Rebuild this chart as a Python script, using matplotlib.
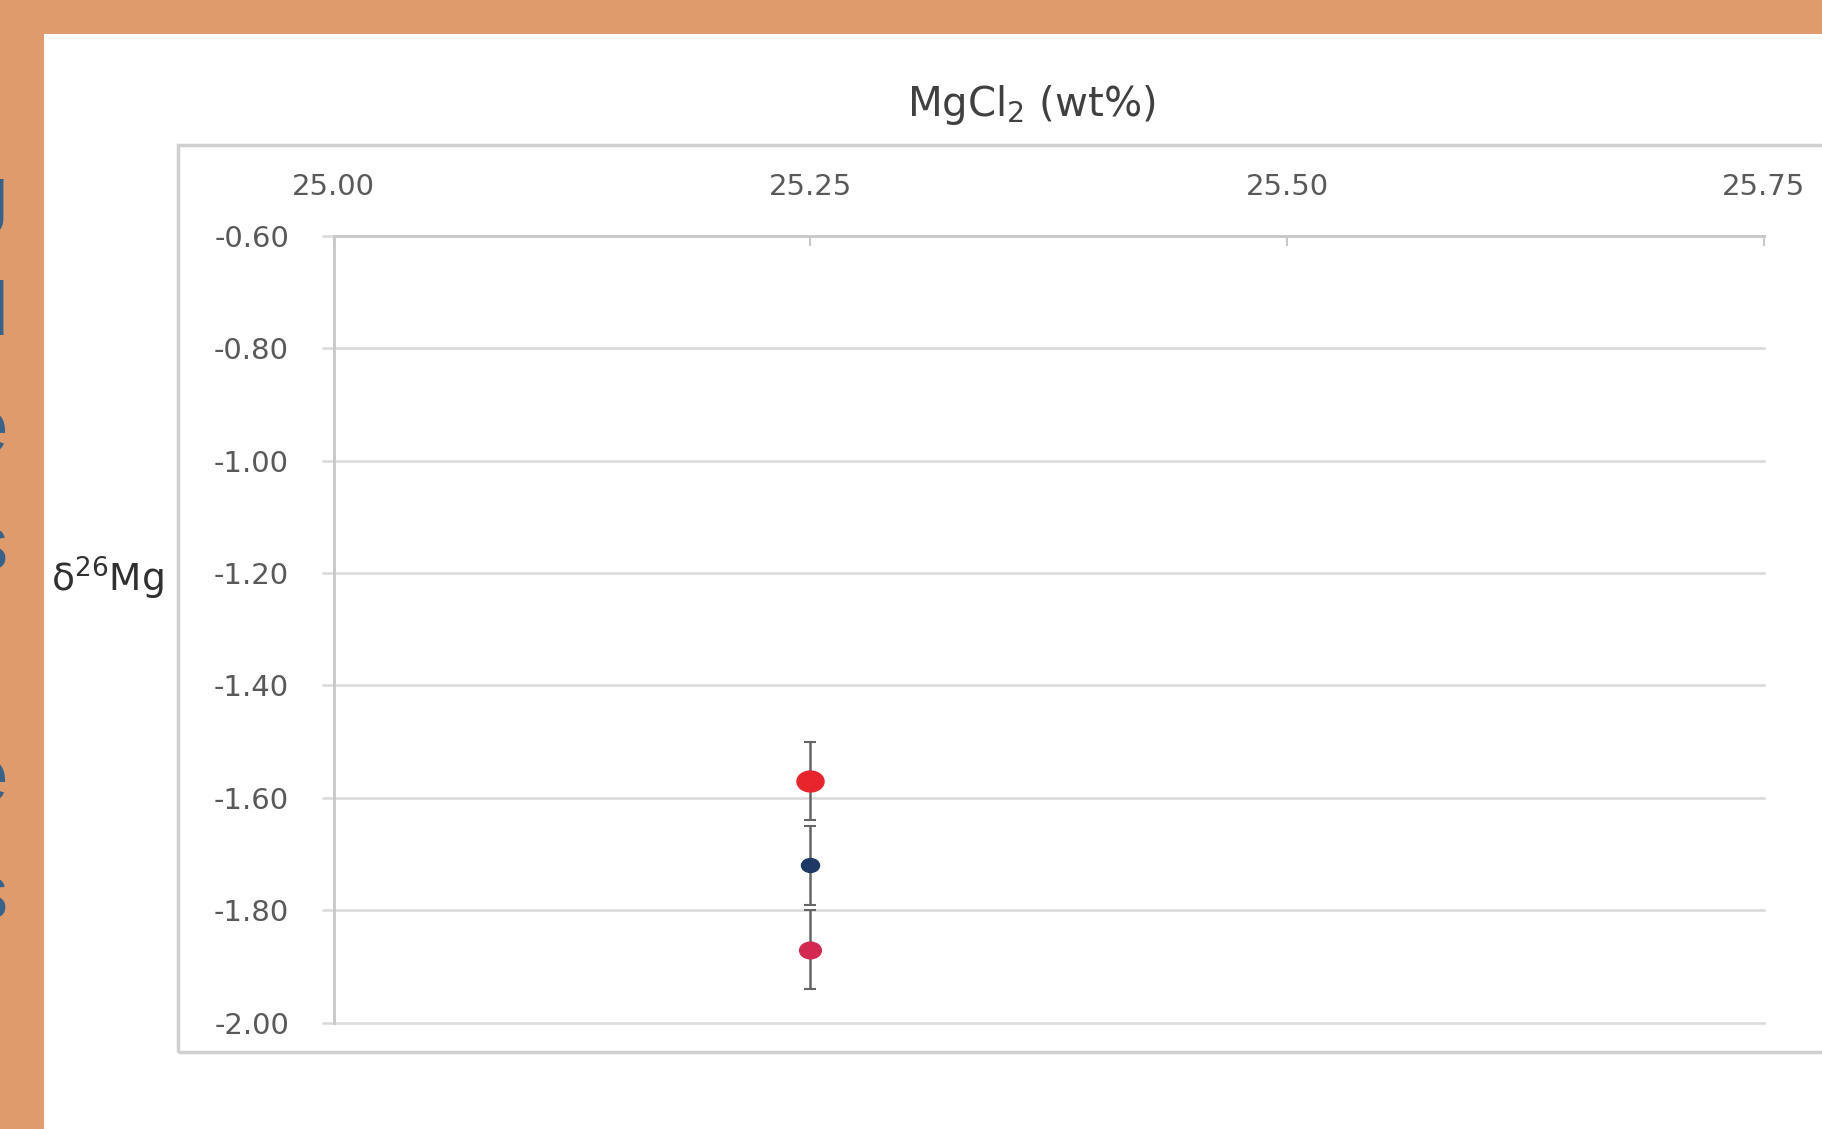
import matplotlib.pyplot as plt
from matplotlib.markers import MarkerStyle
from matplotlib.patches import Rectangle
from matplotlib.transforms import Affine2D
from matplotlib.ticker import FormatStrFormatter

plt.rcParams['axes.unicode_minus'] = False

# MgCl2 content (wt%) and d26Mg with error bars
mgcl2 = [25.25, 25.25, 25.25]
d26mg = [-1.57, -1.72, -1.87]
err = [0.07, 0.07, 0.07]
colors = ['#e8252d', '#1e3966', '#d3284f']
sizes = [15, 10, 12]

x_ticks = [25.00, 25.25, 25.50, 25.75]
y_ticks = [-0.60, -0.80, -1.00, -1.20, -1.40, -1.60, -1.80, -2.00]

# letters of the slide heading running down the left edge
side_letters = ['g', 'd', 'e', 's', '', 'e', 's']

W, H = 1822, 1129
fig = plt.figure(figsize=(W / 100, H / 100), dpi=100, facecolor='#df9b6c')

# white slide panel and chart frame
fig.add_artist(Rectangle((44 / W, 0), 1, 1 - 34 / H, transform=fig.transFigure,
                         facecolor='white', edgecolor='none', zorder=-2))
fig.add_artist(Rectangle((178 / W, 1 - 1052 / H), 1, (1052 - 145) / H,
                         transform=fig.transFigure, fill=False,
                         edgecolor='#d0d0d0', lw=2.5, zorder=-1))

for i, ch in enumerate(side_letters):
    fig.text(8 / W, 1 - (219 + 116.5 * i) / H, ch, ha='right', va='baseline',
             fontsize=55, family='Liberation Sans', color='#35638e')

ax = fig.add_axes([333.5 / W, 1 - 1022.6 / H, (1764 - 333.5) / W, (1022.6 - 236) / H])
ax.set_facecolor('none')

for x, y, e, c, s in zip(mgcl2, d26mg, err, colors, sizes):
    ax.errorbar(x, y, yerr=e, fmt='none', ecolor='#666666', elinewidth=1.8,
                capsize=4, capthick=1.5, zorder=3)
    ax.plot(x, y, ls='none', marker=MarkerStyle('o', transform=Affine2D().scale(1.3, 1.0)),
            ms=s, color=c, mec=c, zorder=4)

ax.set_xlim(25.0, 25.75)
ax.set_ylim(-2.0, -0.6)
ax.set_xticks(x_ticks)
ax.set_yticks(y_ticks)
ax.xaxis.set_major_formatter(FormatStrFormatter('%.2f'))
ax.yaxis.set_major_formatter(FormatStrFormatter('%.2f'))
ax.xaxis.tick_top()

for side in ['bottom', 'right']:
    ax.spines[side].set_visible(False)
for side in ['top', 'left']:
    ax.spines[side].set_color('#c8c8c8')
    ax.spines[side].set_linewidth(2)

ax.grid(axis='y', color='#d9d9d9', lw=1.8)
for gl in ax.get_ygridlines():
    gl.set_clip_on(False)
ax.set_axisbelow(True)
ax.tick_params(axis='x', direction='in', length=7, width=1.5, color='#c8c8c8',
               pad=25, labelsize=21, labelcolor='#595959')
ax.tick_params(axis='y', direction='out', length=9, width=1.8, color='#d9d9d9',
               pad=23, labelsize=21, labelcolor='#595959')

fig.text(1031 / W, 1 - 105 / H, 'MgCl$_2$ (wt%)', ha='center', va='center',
         fontsize=29, color='#404040')
fig.text(107 / W, 1 - 578 / H, 'δ$^{26}$Mg', ha='center', va='center',
         fontsize=27, color='#303030')

fig.savefig('out.png', dpi=100, facecolor=fig.get_facecolor())
